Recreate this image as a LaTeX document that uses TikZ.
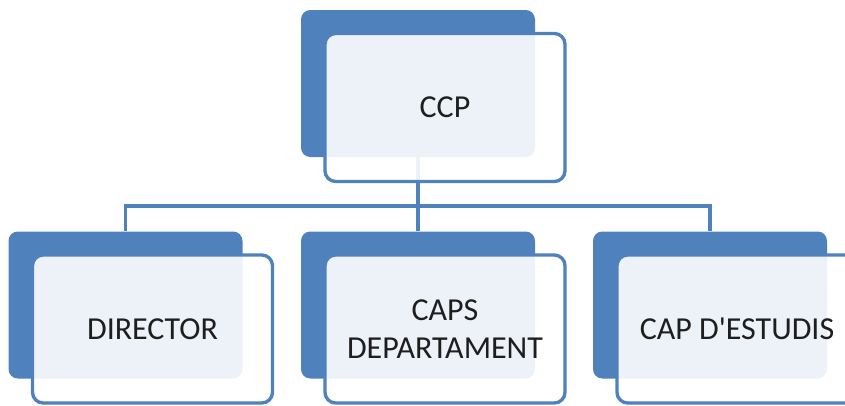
\documentclass[tikz,border=0pt]{standalone}
\usepackage{fontspec}
\setmainfont{Carlito}
\usepackage{xcolor}
\usepackage{tikz}
\usetikzlibrary{positioning, calc}
\definecolor{boxblue}{HTML}{4F81BD}
\definecolor{textgray}{HTML}{1E1E1E}
\begin{document}
\begin{tikzpicture}[x=0.75pt, y=-0.75pt,
    backbox/.style={fill=boxblue, rounded corners=7pt, minimum width=175.5pt, minimum height=110.25pt, inner sep=0pt},
    frontbox/.style={draw=boxblue, line width=2.5pt, fill=white, fill opacity=0.9, text opacity=1,
        rounded corners=8pt, minimum width=180pt, minimum height=111pt, inner sep=0pt,
        text=textgray, align=center, font=\fontsize{24}{28.5}\selectfont},
    link/.style={draw=boxblue, line width=2.5pt}]

    \useasboundingbox (0,0) rectangle (845,405);

    % back boxes
    \node[backbox] (ccpback) at (418,83.5) {};
    \foreach \name/\x in {dirback/125.5, capsback/418, estback/710}
    {
        \node[backbox] (\name) at (\x,305) {};
    }

    % connectors
    \coordinate (bus) at (418,206);
    \foreach \name in {dirback, capsback, estback}
    {
        \draw[link] (ccpback.south) |- (bus -| \name.north) -- (\name.north);
    }

    % front boxes
    \node[frontbox] (ccp) at ([shift={(20.25pt,-18pt)}]ccpback) {CCP};
    \foreach \back/\name/\txt in {
        dirback/director/DIRECTOR,
        capsback/caps/{CAPS\\DEPARTAMENT},
        estback/estudis/CAP D\textquotesingle ESTUDIS}
    {
        \node[frontbox] (\name) at ([shift={(20.25pt,-18pt)}]\back) {\txt};
    }
\end{tikzpicture}
\end{document}
